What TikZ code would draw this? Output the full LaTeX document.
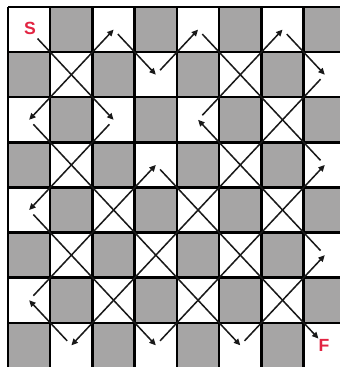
\documentclass[tikz,border=0pt]{standalone}
\usepackage{fontspec}
\setsansfont{Liberation Sans}
\usetikzlibrary{arrows.meta,calc}
\definecolor{cellg}{RGB}{166,165,165}
\definecolor{markR}{RGB}{226,36,66}

\begin{document}
\begin{tikzpicture}[
  x=1.264cm, y=-1.35cm,
  gridln/.style={line width=2.1pt, color=black},
  leg/.style={line width=1.3pt, color=black!90},
  legarr/.style={leg, -{Triangle[length=5.5pt, width=5pt]}},
  legboth/.style={leg, {Triangle[length=5.5pt, width=5pt]}-{Triangle[length=5.5pt, width=5pt]}},
  endlbl/.style={font=\fontsize{15}{15}\selectfont\sffamily\bfseries, text=markR, inner sep=0pt},
]
\useasboundingbox (-0.19,-0.156) rectangle (7.855,7.98);

% ---------- Board ----------
\foreach \r in {0,...,7}{
  \foreach \c in {0,...,7}{
    \pgfmathtruncatemacro{\odd}{mod(\r+\c,2)}
    \ifnum\odd=1
      \fill[cellg] (\c,\r) rectangle ++(1,1);
    \fi
    \coordinate (m-\r-\c) at (\c+0.5,\r+0.5);
  }
}
\foreach \i in {0,...,8}{
  \draw[gridln] (\i,0) -- (\i,8);
  \draw[gridln] (0,\i) -- (8,\i);
  \foreach \j in {0,...,8}{
    \coordinate (k-\i-\j) at (\i,\j);
  }
}

% ---------- Path ----------
\coordinate (start) at ($(m-0-0)!0.4!(k-1-1)$);
\coordinate (finish) at ($(k-7-7)!0.7!(m-7-7)$);
\draw[legarr] (start) -- (m-2-2);

% leave a cell near its centre, run through the corners, stop in the next cell
\foreach \ra/\ca/\ki/\kj/\rb/\cb in {
    2/2/2/3/4/0, 4/0/1/5/7/3, 7/3/4/7/3/7, 1/3/4/1/0/4, 0/2/3/1/1/3,
    2/0/1/3/7/5, 7/5/6/7/5/7, 5/7/7/5/2/4, 2/4/5/2/0/6, 0/6/7/1/1/7,
    1/7/7/2/7/1, 7/1/1/7/6/0, 6/0/1/6/3/3}{
  \draw[legarr] ($(m-\ra-\ca)!0.2!(k-\ki-\kj)$) -- (m-\rb-\cb);
}
\draw[leg] ($(m-3-7)!0.2!(k-7-3)$) -- ($(m-0-4)!0.2!(k-5-1)$);
\draw[legboth] (m-0-2) -- (m-2-0);
\draw[legarr] ($(m-3-3)!0.2!(k-4-4)$) -- (finish);

% ---------- Labels ----------
\node[endlbl] (s) at (0.52,0.48) {S};
\node[endlbl] (f) at (7.48,7.5) {F};

\end{tikzpicture}
\end{document}
